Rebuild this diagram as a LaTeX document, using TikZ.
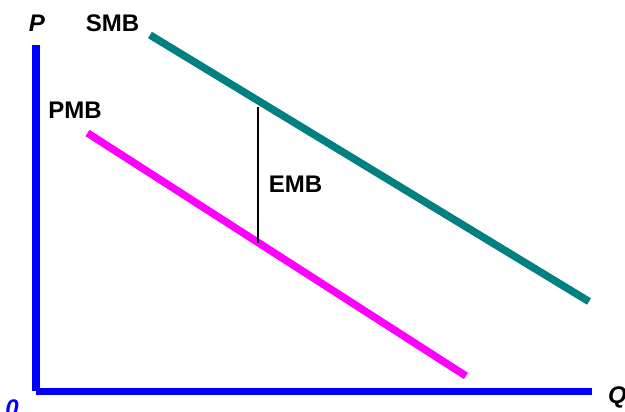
\documentclass[tikz,border=0pt]{standalone}
\usepackage{fontspec}
\setmainfont{Liberation Sans}
\definecolor{tealline}{RGB}{0,128,128}
\definecolor{axisblue}{RGB}{0,0,255}
\definecolor{pmbmag}{RGB}{255,0,255}
\begin{document}
\begin{tikzpicture}[x=1pt,y=-1pt,
  lbl/.style={inner sep=0pt,anchor=base,font=\fontsize{24}{28}\selectfont\bfseries},
  axislbl/.style={lbl,font=\fontsize{24}{28}\selectfont\bfseries\itshape},
  axisline/.style={draw=axisblue,line width=7.5pt,line cap=butt},
  curve/.style={line width=7.5pt,line cap=butt}]
\useasboundingbox (0,0) rectangle (625,412);
% axes
\coordinate (ytop) at (36,45);
\coordinate (ybot) at (36,391);
\coordinate (xl) at (36,391.5);
\coordinate (xr) at (592,391.5);
\draw[axisline] (ytop) -- (ybot);
\draw[axisline] (xl) -- (xr);
% curves
\coordinate (smbA) at (150,35);
\coordinate (smbB) at (589,301.5);
\draw[curve,draw=tealline] (smbA) -- (smbB);
\coordinate (pmbA) at (87.5,133);
\coordinate (pmbB) at (466,376);
\draw[curve,draw=pmbmag] (pmbA) -- (pmbB);
% EMB gap
\coordinate (embT) at (258,107);
\coordinate (embB) at (258,243);
\draw[line width=2pt,black] (embT) -- (embB);
% labels
\node[axislbl] (P) at (37,32) {P};
\node[lbl] (SMB) at (112.5,32) {SMB};
\node[lbl] (PMB) at (75,119) {PMB};
\node[lbl] (EMB) at (295.5,193) {EMB};
\node[axislbl] (Q) at (617.5,403) {Q};
\node[axislbl,text=axisblue] (zero) at (12,416) {0};
\node[lbl,text=axisblue] (topg) at (117,-4.2) {g};
\end{tikzpicture}
\end{document}
